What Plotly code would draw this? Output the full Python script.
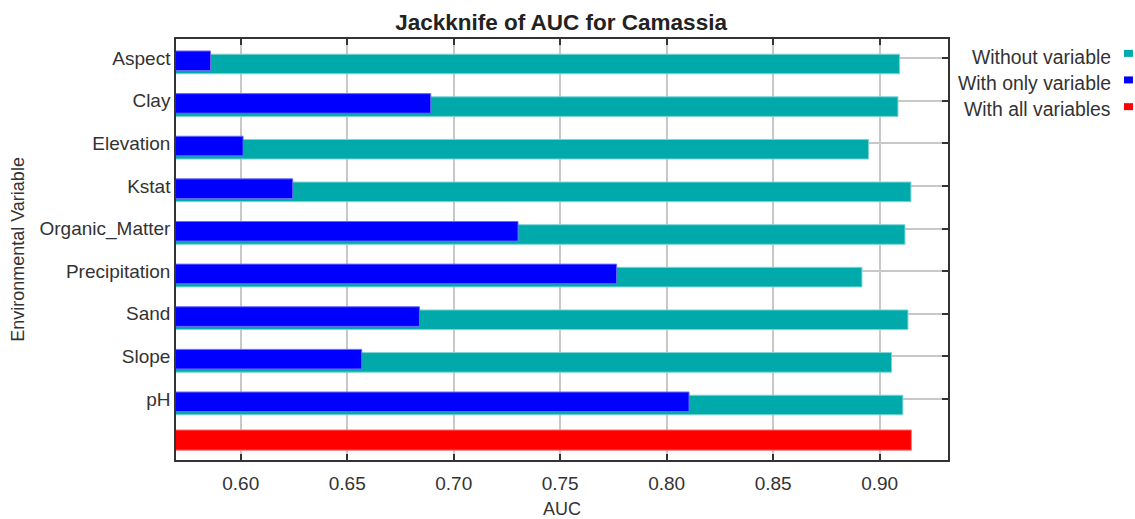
import plotly.graph_objects as go

categories = ["Aspect", "Clay", "Elevation", "Kstat", "Organic_Matter",
              "Precipitation", "Sand", "Slope", "pH"]
without_variable = [0.9094, 0.9086, 0.8948, 0.9147, 0.9119, 0.8917, 0.9133, 0.9056, 0.9109]
with_only_variable = [0.5858, 0.6892, 0.6011, 0.6244, 0.7302, 0.7765, 0.6839, 0.6568, 0.8105]
with_all_variables = [0.9149]

legend_labels = ["Without variable", "With only variable", "With all variables"]
colors = ["#00AAAA", "#0000FF", "#FF0000"]
edge_colors = ["#7FD4D4", "#6A6AFF", "#FF7A7A"]

FONT = "Liberation Sans, Arial, sans-serif"
pos = list(range(len(categories)))

fig = go.Figure()
fig.add_trace(go.Bar(
    y=pos, x=without_variable, orientation="h",
    width=0.46, offset=-0.09,
    marker=dict(color=colors[0], line=dict(color=edge_colors[0], width=1)),
    name=legend_labels[0], showlegend=False))
fig.add_trace(go.Bar(
    y=pos, x=with_only_variable, orientation="h",
    width=0.46, offset=-0.165,
    marker=dict(color=colors[1], line=dict(color=edge_colors[1], width=1)),
    name=legend_labels[1], showlegend=False))
fig.add_trace(go.Bar(
    y=[len(categories)], x=with_all_variables, orientation="h",
    width=0.475, offset=-0.275,
    marker=dict(color=colors[2], line=dict(color=edge_colors[2], width=1)),
    name=legend_labels[2], showlegend=False))

# custom legend (text on left, colour box on right)
text_y = [0.958, 0.896, 0.834]
box_y = [(0.9575, 0.9741), (0.8945, 0.9111), (0.8310, 0.8476)]
for lbl, col, ty, (b0, b1) in zip(legend_labels, colors, text_y, box_y):
    fig.add_annotation(x=1.2137, y=ty, xref="paper", yref="paper",
                       text=lbl, showarrow=False, xanchor="right", yanchor="middle",
                       font=dict(family=FONT, size=19.4, color="#333333"))
    fig.add_shape(type="rect", xref="paper", yref="paper",
                  x0=1.2280, x1=1.2396, y0=b0, y1=b1,
                  fillcolor=col, line=dict(width=0))

fig.update_layout(
    width=1135, height=519,
    margin=dict(l=176, r=187, t=39, b=59, autoexpand=False),
    paper_bgcolor="white", plot_bgcolor="white",
    barmode="overlay",
    title=dict(text="<b>Jackknife of AUC for Camassia</b>", x=0.4943,
               xanchor="center", y=0.9566, yanchor="middle",
               font=dict(family=FONT, size=22.5, color="#222222")),
    font=dict(family=FONT, size=18, color="#333333"),
    showlegend=False,
)
fig.update_xaxes(
    range=[0.5696, 0.9321], dtick=0.05, tick0=0.6, tickformat=".2f",
    ticks="inside", ticklen=6, tickwidth=1.5, tickcolor="#333333",
    showline=True, linecolor="#333333", linewidth=1.5, mirror="ticks",
    showgrid=True, gridcolor="#C8C8C8", gridwidth=1.5, zeroline=False,
    ticklabelstandoff=5, automargin=False,
    title=dict(text="AUC", font=dict(family=FONT, size=18, color="#333333"), standoff=11),
    tickfont=dict(family=FONT, size=19, color="#333333"),
)
fig.update_yaxes(
    range=[9.43, -0.446], tickvals=pos, ticktext=categories,
    ticks="inside", ticklen=6, tickwidth=1.5, tickcolor="#333333",
    showline=True, linecolor="#333333", linewidth=1.5, mirror="ticks",
    showgrid=True, gridcolor="#C8C8C8", gridwidth=1.5, zeroline=False,
    layer="below traces", automargin=False,
    title=dict(text="Environmental Variable", font=dict(family=FONT, size=18, color="#333333"), standoff=10),
    tickfont=dict(family=FONT, size=19, color="#333333"),
)

fig.write_html("out.html", config={"displayModeBar": False},
               post_script="document.body.style.margin='0';document.body.style.overflow='hidden';")
